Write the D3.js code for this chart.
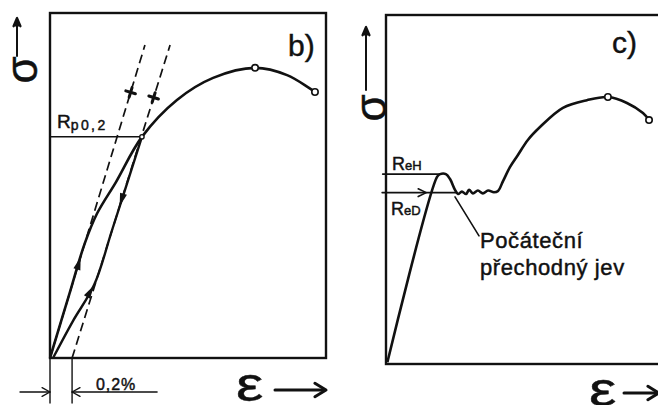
<!DOCTYPE html>
<html><head><meta charset="utf-8">
<script src="https://cdn.jsdelivr.net/npm/d3@7"></script>
<style>
html,body{margin:0;padding:0;background:#fff;}
svg{display:block;}
text{font-family:"Liberation Sans",Arial,sans-serif;fill:#111;stroke:#111;stroke-width:0.45px;}
</style></head><body>
<svg id="chart" width="658" height="405"></svg>
<script>
// ---- Panel b): material without a pronounced yield point (offset yield Rp0,2)
const curveB   = [[0,0],[7,18.5],[12.5,33],[17,41.8],[23.9,51],[33.3,64.1],[46,74.8],[59.1,81.2],[74.3,84.1],[85.9,82],[96,77.1]];
const reloadB  = [[1.1,0],[8.3,10.7],[16,21.2],[22.5,37.1],[33.3,64.1]];
const elasticB = [[0,0],[34.4,90.7]];
const offsetB  = [[8,0],[43.5,90.7]];
const yieldB   = [33.3,64.1];
const markersB = [[74.3,84.1],[96,77.1]];
const offsetStrain = [0,8];           // 0,2 % permanent strain
const tickStressB  = [77,75.5];        // stress level of the cross marks on the two dashed lines

// ---- Panel c): material with upper and lower yield point
const curveC = [[0.5,0.5],[18.5,53.6],[19.6,54.4],[21.7,54.4],[23.2,53],[25,49.9],[26.1,48.7],
  [27.5,49.4],[29,48.7],[30.1,49.9],[31.5,48.9],[33.3,49.7],[35.1,48.9],[37,49.7],[39.1,49.2],[40.6,49.6],
  [42.4,52.4],[44.9,56.4],[47.8,59.9],[51.4,64.2],[55.8,67.9],[64.1,73.4],[72.8,75.6],[80.4,76.5],
  [87.3,74.8],[93.1,71.9],[95.3,69.9]];
const ReH = 54.4;
const ReD = 49.1;
const markersC = [[80.4,76.5],[95.3,69.9]];
const transientLabel = ["Počáteční","přechodný jev"];
const panelNames = ["b)","c)"];

const svg = d3.select("#chart");
const ink = "#111";

const xB = d3.scaleLinear().domain([0,100]).range([50,326]);
const yB = d3.scaleLinear().domain([0,100]).range([358,13]);
const xC = d3.scaleLinear().domain([0,100]).range([386,662]);
const yC = d3.scaleLinear().domain([0,100]).range([364,15]);

function path(pts, xs, ys, curve){
  return d3.line().x(d=>xs(d[0])).y(d=>ys(d[1])).curve(curve||d3.curveLinear)(pts);
}
function seg(x1,y1,x2,y2,w,dash){
  const l = svg.append("line").attr("x1",x1).attr("y1",y1).attr("x2",x2).attr("y2",y2)
    .attr("stroke",ink).attr("stroke-width",w).attr("stroke-linecap","round");
  if(dash) l.attr("stroke-dasharray",dash).attr("stroke-linecap","butt");
  return l;
}
// filled arrowhead centred on p, pointing along (dx,dy)
function filledArrow(p, dx, dy, len, half){
  const n = Math.hypot(dx,dy); dx/=n; dy/=n;
  const tip=[p[0]+dx*len/2,p[1]+dy*len/2], b=[p[0]-dx*len/2,p[1]-dy*len/2];
  svg.append("path").attr("d",`M${tip}L${b[0]-dy*half},${b[1]+dx*half}L${b[0]+dy*half},${b[1]-dx*half}Z`)
    .attr("fill",ink);
}
// open (V) arrowhead with its tip at t
function openArrow(t, dx, dy, len, ang, w){
  const a = Math.atan2(dy,dx);
  const p1=[t[0]-len*Math.cos(a-ang), t[1]-len*Math.sin(a-ang)];
  const p2=[t[0]-len*Math.cos(a+ang), t[1]-len*Math.sin(a+ang)];
  svg.append("path").attr("d",`M${p1}L${t}L${p2}`).attr("fill","none")
    .attr("stroke",ink).attr("stroke-width",w).attr("stroke-linecap","round").attr("stroke-linejoin","round");
}
function onLine(line, y){
  const [a,b]=line; const t=(y-a[1])/(b[1]-a[1]);
  return [a[0]+t*(b[0]-a[0]), y];
}
function circle(cx,cy){
  svg.append("circle").attr("cx",cx).attr("cy",cy).attr("r",3.2)
    .attr("fill","#fff").attr("stroke",ink).attr("stroke-width",1.6);
}

// ================= panel b =================
svg.append("rect").attr("x",xB(0)).attr("y",yB(100)).attr("width",xB(100)-xB(0)).attr("height",yB(0)-yB(100))
  .attr("fill","none").attr("stroke",ink).attr("stroke-width",2.4);

// dashed elastic line and the line offset by 0,2 %
[elasticB, offsetB].forEach(l=>{
  svg.append("path").attr("d",path(l,xB,yB)).attr("fill","none").attr("stroke",ink)
    .attr("stroke-width",1.7).attr("stroke-dasharray","9,5");
});
// cross marks on the dashed lines
[elasticB, offsetB].forEach((l,i)=>{
  const p = onLine(l, tickStressB[i]);
  const px=xB(p[0]), py=yB(p[1]);
  let dx=xB(l[1][0])-xB(l[0][0]), dy=yB(l[1][1])-yB(l[0][1]); const n=Math.hypot(dx,dy); dx/=n; dy/=n;
  seg(px-dx*5,py-dy*5,px+dx*5,py+dy*5,3);
  seg(px+dy*5,py-dx*5,px-dy*5,py+dx*5,3);
});

// Rp0,2 level
seg(xB(0),yB(yieldB[1]),xB(yieldB[0]),yB(yieldB[1]),1.5);

// loading curve and unloading / reloading line
svg.append("path").attr("d",path(curveB,xB,yB,d3.curveCatmullRom.alpha(0.5))).attr("fill","none")
  .attr("stroke",ink).attr("stroke-width",2.6).attr("stroke-linejoin","round");
svg.append("path").attr("d",path(reloadB,xB,yB,d3.curveCatmullRom.alpha(0.5))).attr("fill","none")
  .attr("stroke",ink).attr("stroke-width",2.4);

// direction arrows
{
  const e = elasticB, dxe=xB(e[1][0])-xB(e[0][0]), dye=yB(e[1][1])-yB(e[0][1]);
  const p = onLine(e, 27.5); filledArrow([xB(p[0]),yB(p[1])], dxe, dye, 13, 3.6);
  const o = offsetB, dxo=xB(o[1][0])-xB(o[0][0]), dyo=yB(o[1][1])-yB(o[0][1]);
  const q = onLine(o, 45.8); filledArrow([xB(q[0]),yB(q[1])], -dxo, -dyo, 13, 3.6);
  const r0=reloadB[1], r1=reloadB[2];
  const t = 0.82, r = [r0[0]+t*(r1[0]-r0[0]), r0[1]+t*(r1[1]-r0[1])];
  filledArrow([xB(r[0]),yB(r[1])], xB(r1[0])-xB(r0[0]), yB(r1[1])-yB(r0[1]), 13, 3.6);
}
svg.append("circle").attr("cx",xB(yieldB[0])).attr("cy",yB(yieldB[1])).attr("r",2.2)
  .attr("fill","#fff").attr("stroke",ink).attr("stroke-width",1.4);
markersB.forEach(m=>circle(xB(m[0]),yB(m[1])));

// Rp0,2 label
{
  const t = svg.append("text").attr("x",xB(0)+7).attr("y",yB(yieldB[1])-9).attr("font-size",19);
  t.append("tspan").text("R");
  t.append("tspan").attr("font-size",14).attr("letter-spacing",2.4).attr("dy",2).text("p0,2");
}
svg.append("text").attr("x",288).attr("y",56).attr("font-size",30).text(panelNames[0]);

// 0,2 % dimension below the axis
offsetStrain.forEach(s=>seg(xB(s),yB(0),xB(s),403,1.4));
seg(20,392,xB(offsetStrain[0]),392,1.4);
seg(xB(offsetStrain[1]),392,157,392,1.6);
openArrow([xB(offsetStrain[0]),392],1,0,9,0.5,1.4);
openArrow([xB(offsetStrain[1]),392],-1,0,9,0.5,1.4);
svg.append("text").attr("x",96).attr("y",390).attr("font-size",16).attr("letter-spacing",0.9).text("0,2%");

// axis symbols b
seg(17,56,17,20,2);
openArrow([17,18],0,-1,9,0.4,2.2);
filledArrow([17,22],0,-1,9,3);
svg.append("text").attr("transform","translate(21,70) rotate(-90)").attr("text-anchor","middle")
  .attr("dominant-baseline","central").attr("font-size",44).text("σ");
svg.append("text").attr("transform","translate(236,401) scale(1.28,1)").attr("font-size",48).text("ε");
seg(275,390,324,390,3);
openArrow([326,390],1,0,13,0.55,3);

// ================= panel c =================
svg.append("rect").attr("x",xC(0)).attr("y",yC(100)).attr("width",xC(100)-xC(0)).attr("height",yC(0)-yC(100))
  .attr("fill","none").attr("stroke",ink).attr("stroke-width",2.4);

// yield levels
seg(xC(-1.2),yC(ReH),xC(19.6),yC(ReH),1.6);
seg(xC(-1.4),yC(ReD),xC(25.5),yC(ReD),1.6);
openArrow([xC(14.6),yC(ReD)],1,0,9,0.45,1.6);

svg.append("path").attr("d",path(curveC,xC,yC,d3.curveCatmullRom.alpha(0.5))).attr("fill","none")
  .attr("stroke",ink).attr("stroke-width",2.6).attr("stroke-linejoin","round");
markersC.forEach(m=>circle(xC(m[0]),yC(m[1])));

// leader to the transient-effect note
seg(xC(25),yC(47.9),xC(33.7),yC(36.7),1.6);
transientLabel.forEach((s,i)=>{
  svg.append("text").attr("x",480).attr("y",248+i*27).attr("font-size",22).attr("letter-spacing",0.6).text(s);
});

// ReH / ReD labels
{
  const t = svg.append("text").attr("x",392).attr("y",170).attr("font-size",18);
  t.append("tspan").text("R"); t.append("tspan").attr("font-size",13).text("eH");
  const u = svg.append("text").attr("x",391).attr("y",215).attr("font-size",18);
  u.append("tspan").text("R"); u.append("tspan").attr("font-size",13).text("eD");
}
svg.append("text").attr("x",612).attr("y",53).attr("font-size",30).text(panelNames[1]);

// axis symbols c
seg(366,90,366,29,2);
openArrow([366,27],0,-1,9,0.4,2.2);
filledArrow([366,31],0,-1,9,3);
svg.append("text").attr("transform","translate(370,108) rotate(-90)").attr("text-anchor","middle")
  .attr("dominant-baseline","central").attr("font-size",44).text("σ");
svg.append("text").attr("transform","translate(589,406) scale(1.28,1)").attr("font-size",48).text("ε");
seg(624,393,656,393,3);
openArrow([659,393],1,0,13,0.55,3);
</script>
</body></html>
